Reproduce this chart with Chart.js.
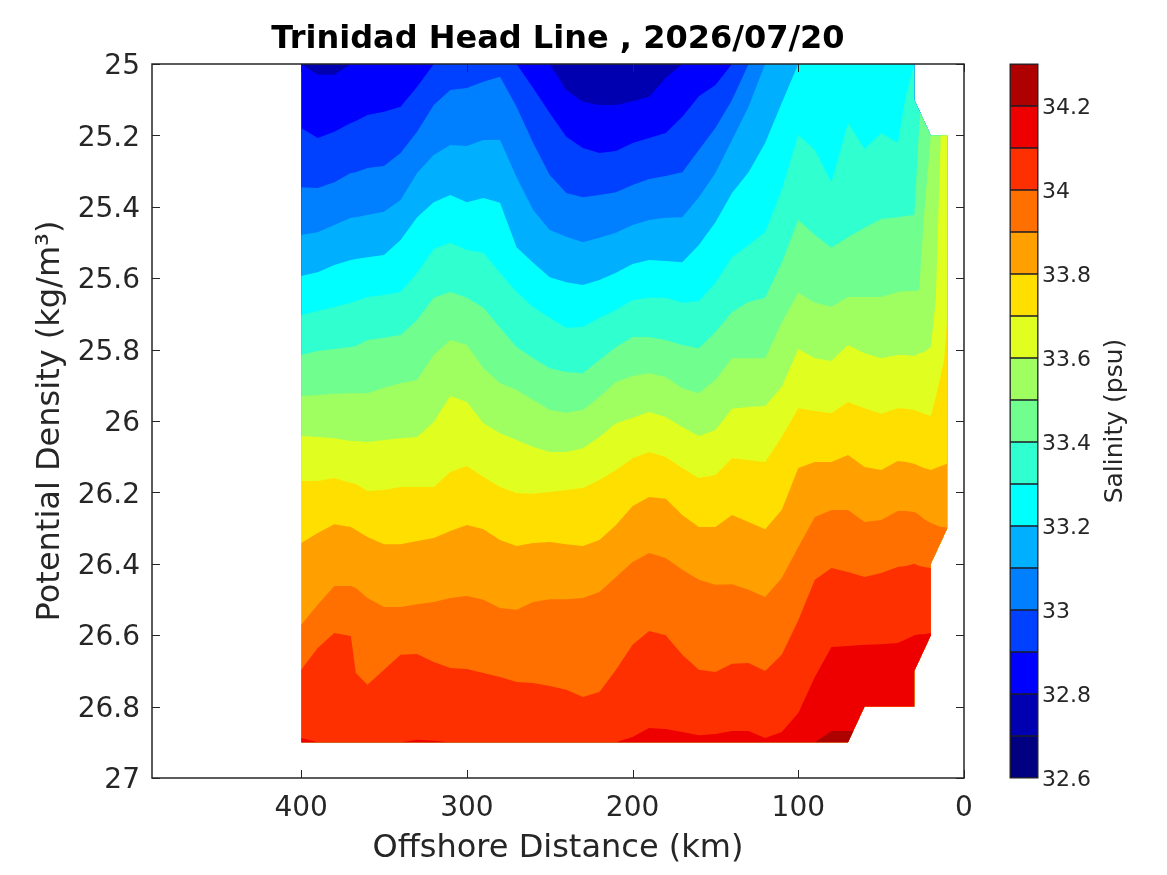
<!DOCTYPE html>
<html>
<head>
<meta charset="utf-8">
<title>Trinidad Head Line</title>
<script src="https://cdn.jsdelivr.net/npm/chart.js@4/dist/chart.umd.min.js"></script>
<style>
html, body { margin: 0; padding: 0; background: #fff; }
#wrap { position: relative; width: 1167px; height: 875px; overflow: hidden; }
#section { position: absolute; left: 0; top: 0; }
#cbar { position: absolute; left: 990px; top: 0; }
</style>
</head>
<body>
<div id="wrap">
<canvas id="section" width="1167" height="875"></canvas>
<canvas id="cbar" width="177" height="875"></canvas>
</div>
<script>
// offshore distance of each column of the contour lines (km)
var km = [400,390,380,370,367,360,350,340,330,320,310,300,290,280,270,260,250,240,230,220,210,200,190,180,170,160,150,140,130,120,110,100,90,80,70,60,50,40,35,30,27,24,20,17,14,12,10];

// potential density at which each salinity contour sits (25 = above the top of the section)
var s327 = [25,25,25,25,25,25,25,25,25,25,25,25,25,25,25,25,25,25,25,25,25,25,25,25,25,25,25,25,25,25,25,25,25,25,25,25,25,25,25,25,25,25,25,25,25,25,25];
var s328 = [25,25.03,25.03,25,25,25,25,25,25,25,25,25,25,25,25,25,25,25.073,25.106,25.115,25.115,25.104,25.092,25.039,25,25,25,25,25,25,25,25,25,25,25,25,25,25,25,25,25,25,25,25,25,25,25];
var s329 = [25.179,25.207,25.19,25.165,25.16,25.143,25.134,25.12,25.064,25,25,25,25,25,25,25.067,25.137,25.204,25.235,25.249,25.244,25.221,25.207,25.193,25.148,25.09,25.059,25,25,25,25,25,25,25,25,25,25,25,25,25,25,25,25,25,25,25,25];
var s330 = [25.345,25.347,25.331,25.305,25.303,25.291,25.286,25.249,25.19,25.115,25.073,25.067,25.05,25.036,25.12,25.221,25.311,25.361,25.373,25.367,25.359,25.339,25.322,25.314,25.303,25.241,25.179,25.101,25,25,25,25,25,25,25,25,25,25,25,25,25,25,25,25,25,25,25];
var s331 = [25.479,25.471,25.451,25.431,25.429,25.423,25.414,25.381,25.305,25.255,25.227,25.23,25.213,25.213,25.317,25.409,25.465,25.484,25.499,25.487,25.473,25.451,25.437,25.431,25.429,25.373,25.305,25.213,25.12,25,25,25,25,25,25,25,25,25,25,25,25,25,25,25,25,25,25];
var s332 = [25.594,25.583,25.563,25.549,25.546,25.541,25.535,25.493,25.429,25.387,25.367,25.387,25.375,25.389,25.513,25.557,25.597,25.611,25.619,25.605,25.585,25.56,25.549,25.552,25.555,25.507,25.443,25.361,25.303,25.221,25.109,25,25,25,25,25,25,25,25,25,25,25,25,25,25,25,25];
var s333 = [25.703,25.692,25.681,25.669,25.664,25.653,25.647,25.639,25.585,25.518,25.501,25.521,25.529,25.585,25.639,25.681,25.711,25.739,25.737,25.711,25.689,25.661,25.655,25.655,25.669,25.664,25.613,25.541,25.507,25.471,25.353,25.199,25.241,25.331,25.165,25.238,25.193,25.221,25.087,25,25,25,25,25,25,25,25];
var s334 = [25.815,25.804,25.798,25.793,25.79,25.773,25.767,25.759,25.717,25.655,25.639,25.655,25.683,25.739,25.793,25.824,25.852,25.863,25.866,25.829,25.793,25.765,25.765,25.773,25.787,25.796,25.751,25.695,25.667,25.655,25.557,25.437,25.479,25.515,25.485,25.459,25.434,25.429,25.426,25.423,25.171,25,25,25,25,25,25];
var s335 = [25.93,25.927,25.924,25.922,25.922,25.922,25.907,25.894,25.885,25.815,25.773,25.787,25.852,25.894,25.913,25.941,25.969,25.977,25.969,25.933,25.891,25.874,25.866,25.877,25.908,25.922,25.885,25.824,25.824,25.824,25.725,25.641,25.669,25.68,25.653,25.653,25.653,25.639,25.636,25.636,25.633,25.415,25.202,25,25,25,25];
var s336 = [26.042,26.045,26.048,26.056,26.056,26.059,26.053,26.048,26.045,26.003,25.93,25.947,26.006,26.034,26.053,26.073,26.087,26.087,26.076,26.045,26.006,25.991,25.975,25.989,26.017,26.042,26.025,25.966,25.961,25.958,25.905,25.798,25.824,25.832,25.787,25.81,25.824,25.815,25.815,25.818,25.81,25.807,25.793,25.658,25.202,25,25];
var s337 = [26.168,26.168,26.16,26.174,26.176,26.196,26.193,26.185,26.185,26.185,26.143,26.126,26.157,26.185,26.202,26.204,26.199,26.193,26.188,26.165,26.137,26.104,26.087,26.101,26.132,26.16,26.151,26.104,26.109,26.115,26.045,25.964,25.972,25.978,25.947,25.964,25.98,25.964,25.966,25.969,25.975,25.98,25.986,25.933,25.871,25.829,25.703];
var s338 = [26.342,26.314,26.289,26.297,26.305,26.325,26.345,26.345,26.336,26.328,26.308,26.291,26.303,26.333,26.35,26.342,26.339,26.345,26.35,26.333,26.291,26.238,26.213,26.218,26.263,26.297,26.297,26.263,26.283,26.303,26.249,26.132,26.115,26.115,26.095,26.129,26.137,26.112,26.115,26.12,26.126,26.132,26.137,26.132,26.126,26.123,26.118];
var s339 = [26.571,26.515,26.462,26.462,26.468,26.496,26.521,26.521,26.513,26.507,26.496,26.49,26.501,26.524,26.529,26.507,26.499,26.499,26.496,26.479,26.437,26.395,26.37,26.384,26.417,26.445,26.459,26.457,26.473,26.493,26.44,26.353,26.269,26.249,26.249,26.283,26.277,26.252,26.252,26.255,26.263,26.275,26.286,26.291,26.297,26.297,26.3];
var s340 = [26.697,26.636,26.594,26.602,26.706,26.739,26.697,26.655,26.653,26.675,26.692,26.695,26.706,26.717,26.731,26.734,26.742,26.753,26.773,26.759,26.697,26.627,26.588,26.6,26.655,26.697,26.703,26.68,26.678,26.7,26.655,26.558,26.445,26.412,26.423,26.437,26.426,26.409,26.406,26.4,26.406,26.409,26.412,26.412,26.412,26.412,26.412];
var s341 = [26.888,26.9,26.9,26.9,26.9,26.9,26.9,26.9,26.893,26.896,26.9,26.9,26.9,26.9,26.9,26.9,26.9,26.9,26.9,26.9,26.9,26.885,26.86,26.863,26.871,26.88,26.877,26.868,26.868,26.888,26.871,26.818,26.717,26.633,26.63,26.627,26.625,26.622,26.611,26.6,26.597,26.597,26.594,26.594,26.594,26.594,26.594];
var s342 = [26.9,26.9,26.9,26.9,26.9,26.9,26.9,26.9,26.9,26.9,26.9,26.9,26.9,26.9,26.9,26.9,26.9,26.9,26.9,26.9,26.9,26.9,26.9,26.9,26.9,26.9,26.9,26.9,26.9,26.9,26.9,26.9,26.9,26.868,26.868,26.868,26.9,26.9,26.9,26.9,26.9,26.9,26.9,26.9,26.9,26.9,26.9];

// outline of the sampled part of the section
var edgeKm = [400,30,30,20,10,10,20,20,30,30,60,70,400];
var edgeDensity = [25,25,25.1,25.2,25.2,26.3,26.4,26.6,26.7,26.8,26.8,26.9,26.9];

var contours = [s327,s328,s329,s330,s331,s332,s333,s334,s335,s336,s337,s338,s339,s340,s341,s342];
var levels = [32.6,32.7,32.8,32.9,33,33.1,33.2,33.3,33.4,33.5,33.6,33.7,33.8,33.9,34,34.1,34.2,34.3];
var colors = ['#000080','#0000b0','#0000ff','#0040ff','#0080ff','#00b0ff','#00ffff','#30ffcf','#70ff8f','#a0ff60','#e0ff20','#ffdf00','#ffa000','#ff7000','#ff3000','#ef0000','#af0000'];

var xTicks = [400,300,200,100,0];
var yTicks = [25,25.2,25.4,25.6,25.8,26,26.2,26.4,26.6,26.8,27];
var barTicks = [32.6,32.8,33,33.2,33.4,33.6,33.8,34,34.2];

var fontName = '"DejaVu Sans"';
var ink = '#262626';

// chart.js draws the first dataset on top, so the saltiest contour goes first
var datasets = [];
for (var i = contours.length - 1; i >= 0; i--) {
    var pts = [];
    for (var j = 0; j < km.length; j++) {
        pts.push({x: km[j], y: contours[i][j]});
    }
    datasets.push({
        data: pts,
        showLine: true,
        tension: 0,
        borderWidth: 0,
        pointRadius: 0,
        backgroundColor: colors[i + 1],
        fill: {value: 27}
    });
}

// keeps the filled contours inside the sampled outline
var clipToSection = {
    id: 'clipToSection',
    beforeDatasetsDraw: function(chart) {
        var ctx = chart.ctx, sx = chart.scales.x, sy = chart.scales.y;
        ctx.save();
        ctx.beginPath();
        for (var k = 0; k < edgeKm.length; k++) {
            var px = sx.getPixelForValue(edgeKm[k]), py = sy.getPixelForValue(edgeDensity[k]);
            if (k === 0) { ctx.moveTo(px, py); } else { ctx.lineTo(px, py); }
        }
        ctx.closePath();
        ctx.clip();
    },
    afterDatasetsDraw: function(chart) {
        chart.ctx.restore();
    }
};

// box round the axes with ticks pointing inwards on all four sides
var boxTicks = {
    id: 'boxTicks',
    afterDraw: function(chart) {
        var ctx = chart.ctx, a = chart.chartArea, len = 8;
        ctx.save();
        ctx.strokeStyle = ink;
        ctx.lineWidth = 1;
        ctx.beginPath();
        xTicks.forEach(function(v) {
            var p = Math.round(chart.scales.x.getPixelForValue(v)) + 0.5;
            ctx.moveTo(p, a.top); ctx.lineTo(p, a.top + len);
            ctx.moveTo(p, a.bottom); ctx.lineTo(p, a.bottom - len);
        });
        yTicks.forEach(function(v) {
            var p = Math.round(chart.scales.y.getPixelForValue(v)) + 0.5;
            ctx.moveTo(a.left, p); ctx.lineTo(a.left + len, p);
            ctx.moveTo(a.right, p); ctx.lineTo(a.right - len, p);
        });
        ctx.stroke();
        ctx.lineWidth = 1.5;
        ctx.strokeRect(a.left, a.top, a.right - a.left, a.bottom - a.top);
        ctx.restore();
    }
};

// an empty first line with a small line height nudges the label down a little
function nudgedLabel(v) {
    return ['', String(v)];
}

new Chart(document.getElementById('section'), {
    type: 'scatter',
    data: {datasets: datasets},
    plugins: [clipToSection, boxTicks],
    options: {
        responsive: false,
        animation: false,
        devicePixelRatio: 1,
        layout: {padding: {left: 0, right: 203, top: 0, bottom: 0}},
        plugins: {
            legend: {display: false},
            tooltip: {enabled: false},
            title: {
                display: true,
                text: 'Trinidad Head Line , 2026/07/20',
                fullSize: false,
                color: '#000',
                font: {family: fontName, size: 32, weight: 'bold'},
                padding: {top: 20, bottom: 5.6}
            }
        },
        scales: {
            x: {
                type: 'linear',
                reverse: true,
                min: 0,
                max: 490,
                grid: {display: false},
                border: {display: false},
                afterBuildTicks: function(s) { s.ticks = xTicks.map(function(v) { return {value: v}; }); },
                afterFit: function(s) { s.height = 97; },
                ticks: {
                    color: ink,
                    font: {family: fontName, size: 28},
                    padding: 6,
                    maxRotation: 0,
                    callback: function(v) { return String(v); }
                },
                title: {
                    display: true,
                    text: 'Offshore Distance (km)',
                    color: ink,
                    font: {family: fontName, size: 32},
                    padding: {top: 4, bottom: 7}
                }
            },
            y: {
                type: 'linear',
                reverse: true,
                min: 25,
                max: 27,
                grid: {display: false},
                border: {display: false},
                afterBuildTicks: function(s) { s.ticks = yTicks.map(function(v) { return {value: v}; }); },
                afterFit: function(s) { s.width = 152; },
                ticks: {
                    color: ink,
                    font: {family: fontName, size: 28, lineHeight: '6px'},
                    padding: 4,
                    autoSkip: false,
                    callback: nudgedLabel
                },
                title: {
                    display: true,
                    text: 'Potential Density (kg/m³)',
                    color: ink,
                    font: {family: fontName, size: 32},
                    padding: {top: 31, bottom: 0}
                }
            }
        }
    }
});

// the colour bar: one floating bar per salinity band
var barSets = [];
for (var b = 0; b < colors.length; b++) {
    barSets.push({
        data: [[levels[b], levels[b + 1]]],
        backgroundColor: colors[b],
        borderColor: '#1c1c28',
        borderWidth: 1,
        borderSkipped: false,
        barPercentage: 1,
        categoryPercentage: 1,
        grouped: false
    });
}

var barLabel = {
    id: 'barLabel',
    afterDraw: function(chart) {
        var ctx = chart.ctx, a = chart.chartArea;
        ctx.save();
        ctx.strokeStyle = ink;
        ctx.lineWidth = 1;
        ctx.strokeRect(a.left, a.top, a.right - a.left, a.bottom - a.top);
        ctx.translate(125, 421);
        ctx.rotate(-Math.PI / 2);
        ctx.fillStyle = ink;
        ctx.font = '25px ' + fontName;
        ctx.textAlign = 'center';
        ctx.textBaseline = 'middle';
        ctx.fillText('Salinity (psu)', 0, 0);
        ctx.restore();
    }
};

new Chart(document.getElementById('cbar'), {
    type: 'bar',
    data: {labels: [''], datasets: barSets},
    plugins: [barLabel],
    options: {
        responsive: false,
        animation: false,
        devicePixelRatio: 1,
        layout: {padding: {left: 20, right: 0, top: 64, bottom: 97}},
        plugins: {legend: {display: false}, tooltip: {enabled: false}},
        scales: {
            x: {display: false},
            y: {
                type: 'linear',
                position: 'right',
                min: 32.6,
                max: 34.3,
                grid: {display: false},
                border: {display: false},
                afterBuildTicks: function(s) { s.ticks = barTicks.map(function(v) { return {value: v}; }); },
                afterFit: function(s) { s.width = 129; },
                ticks: {
                    color: ink,
                    font: {family: fontName, size: 22, lineHeight: '5px'},
                    padding: -4,
                    autoSkip: false,
                    callback: nudgedLabel
                }
            }
        }
    }
});
</script>
</body>
</html>
